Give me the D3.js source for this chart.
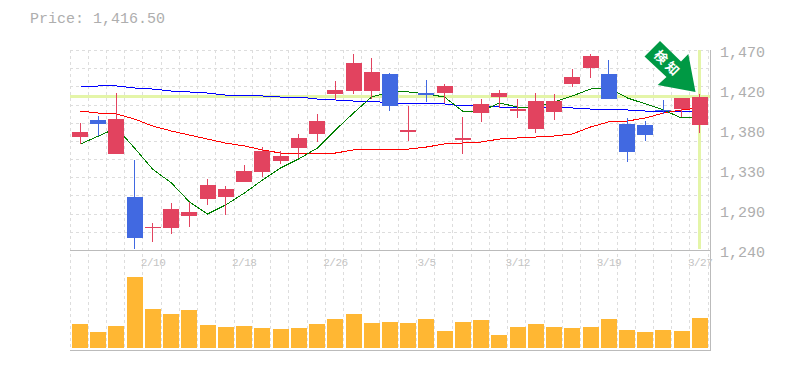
<!DOCTYPE html>
<html>
<head>
<meta charset="utf-8">
<script src="https://cdn.jsdelivr.net/npm/d3@7"></script>
<style>
  html, body { margin: 0; padding: 0; background: #fff; }
  svg { display: block; }
  text { font-family: "Liberation Mono", monospace; fill: #aeaeae; }
  .grid line { stroke: #ddd; stroke-dasharray: 3 3; shape-rendering: crispEdges; }
  .ma { fill: none; stroke-width: 1; }
  .axis .domain, .axis line { display: none; }
</style>
</head>
<body>
<svg id="chart" width="785" height="370"></svg>
<script>
var opens = [1370.5,1390.1,1351,1301.5,1265.9,1265.9,1279.7,1299.2,1301.5,1318.8,1330.3,1342.9,1357.9,1374,1420,1423.4,1423.4,1443,1376.3,1421.1,1421.1,1367.1,1398.1,1416.5,1400.4,1379.7,1399.3,1431.5,1449.9,1443,1385.5,1384.3,1401.6,1402.7,1384.3];
var highs = [1386.6,1394.7,1421.1,1344,1271.6,1294.6,1295.8,1322.2,1314.2,1338.3,1359,1354.4,1374,1397,1435,1466,1461.4,1444.1,1406.2,1436.1,1431.5,1393.5,1414.2,1424.6,1414.2,1421.1,1420,1448.7,1466,1459.1,1392.4,1388.9,1413.1,1415.4,1420];
var lows = [1362.5,1371.7,1351,1241.7,1249.8,1259,1267,1292.3,1280.8,1318.8,1324.5,1339.5,1346.4,1364.8,1413.1,1420,1414.2,1400.4,1365.9,1410.8,1409.6,1351,1387.8,1403.9,1392.4,1375.1,1390.1,1428,1438.4,1414.2,1341.8,1365.9,1397,1393.5,1375.1];
var closes = [1376.3,1385.5,1391.2,1254.4,1267,1287.7,1284.3,1315.3,1310.7,1331.4,1354.4,1348.7,1369.4,1388.9,1424.6,1455.6,1445.3,1406.2,1378.6,1418.8,1429.2,1369.4,1408.5,1421.1,1402.7,1411.9,1411.9,1439.5,1463.7,1414.2,1353.3,1372.8,1400.4,1415.4,1416.5];
var volumes = [240,160,220,710,390,340,380,230,210,220,200,190,200,240,290,340,250,260,250,290,170,260,280,130,210,240,210,200,210,290,180,160,180,170,300];

var maShort = [1362.5,1371.7,1380.9,1357.9,1333.7,1317.6,1295.8,1282,1292.3,1306.1,1321.1,1334.9,1345.2,1357.9,1378.6,1398.1,1416.5,1422.3,1422.3,1420,1416.5,1400.4,1400.4,1409.6,1405,1405,1410.8,1417.7,1425.7,1426.9,1415.4,1408.5,1401.6,1392.4,1392.4];
var maMid = [1400.4,1398.1,1397,1391.2,1383.2,1377.4,1372.8,1368.2,1363.6,1360.2,1355.6,1352.1,1351,1351,1352.1,1355.6,1356.7,1356.7,1356.7,1359,1362.5,1363.6,1364.8,1368.2,1369.4,1370.5,1371.7,1374,1382,1387.8,1388.9,1392.4,1398.1,1401.6,1403.9];
var maLong = [1428,1429.2,1429.2,1426.9,1425.7,1423.4,1422.3,1421.1,1418.8,1418.8,1417.7,1416.5,1416.5,1414.2,1413.1,1411.9,1411.9,1409.6,1409.6,1408.5,1408.5,1406.2,1406.2,1405,1405,1403.9,1403.9,1403.9,1402.7,1401.6,1401.6,1400.4,1400.4,1399.3,1399.3];

var tickIndex = [4, 9, 14, 19, 24, 29, 34],
    tickDates = ["2/10", "2/18", "2/26", "3/5", "3/12", "3/19", "3/27"],
    priceTicks = [1470, 1424, 1378, 1332, 1286, 1240],
    lastPrice = 1416.5;

var svg = d3.select("#chart");

var xScale = d3.scaleBand().domain(d3.range(opens.length)).range([70, 708.2]),
    yScale = d3.scaleLinear().domain([1240, 1470]).range([250.5, 50.5]),
    volScale = d3.scaleLinear().domain([0, 800]).range([348, 268]);

function barLeft(i) { return Math.round(xScale(i) + 2); }
function centerX(i) { return Math.floor(xScale(i) + 10) + 0.5; }
function gridX(i) { return Math.floor(70 + i * xScale.step()) + 0.5; }

// Title
svg.append("text")
    .attr("x", 30)
    .attr("y", 23)
    .style("font-size", "15px")
    .text("Price: " + d3.format(",.2f")(lastPrice));

// Grid, upper and lower panel share the vertical lines
var grid = svg.append("g").attr("class", "grid");

grid.selectAll(".v")
    .data(d3.range(opens.length + 1))
  .enter().append("line")
    .attr("x1", gridX)
    .attr("x2", gridX)
    .attr("y1", 50)
    .attr("y2", 350);

grid.selectAll(".h")
    .data(d3.range(0, 12))
  .enter().append("line")
    .attr("x1", 70)
    .attr("x2", 710)
    .attr("y1", function(d) { return Math.round(50 + d * 200 / 11) + 0.5; })
    .attr("y2", function(d) { return Math.round(50 + d * 200 / 11) + 0.5; });

// Current price and last bar highlight
svg.append("rect")
    .attr("x", 70)
    .attr("width", 640)
    .attr("y", Math.round(yScale(lastPrice)) - 2)
    .attr("height", 3)
    .style("fill", "#e4f5a8");

svg.append("rect")
    .attr("x", centerX(opens.length - 1) - 1.5)
    .attr("width", 3)
    .attr("y", 50)
    .attr("height", 199)
    .style("fill", "#e4f5a8");

// Panel borders
svg.append("path")
    .attr("d", "M70,250.5H710M70,350.5H710M710.5,50V351")
    .style("fill", "none")
    .style("stroke", "#bbb")
    .style("shape-rendering", "crispEdges");

// Moving averages
var line = d3.line()
    .x(function(d, i) { return centerX(i); })
    .y(function(d) { return yScale(d); });

[[maLong, "#0000ff"], [maMid, "#ff0000"], [maShort, "#008000"]].forEach(function(s) {
  svg.append("path")
      .attr("class", "ma")
      .attr("d", line(s[0]))
      .style("stroke", s[1])
      .style("shape-rendering", "crispEdges");
});

// Candles
var candle = svg.selectAll(".candle")
    .data(d3.range(opens.length))
  .enter().append("g")
    .attr("class", "candle")
    .style("fill", function(i) { return closes[i] >= opens[i] ? "#e2435f" : "#4169e1"; })
    .style("stroke", function(i) { return closes[i] >= opens[i] ? "#e2435f" : "#4169e1"; });

candle.append("line")
    .attr("x1", centerX)
    .attr("x2", centerX)
    .attr("y1", function(i) { return Math.round(yScale(highs[i])); })
    .attr("y2", function(i) { return Math.round(yScale(lows[i])); })
    .style("shape-rendering", "crispEdges");

candle.append("rect")
    .attr("x", barLeft)
    .attr("width", 16)
    .attr("y", function(i) { return Math.round(yScale(Math.max(opens[i], closes[i]))); })
    .attr("height", function(i) {
      return Math.max(1, Math.round(yScale(Math.min(opens[i], closes[i]))) - Math.round(yScale(Math.max(opens[i], closes[i]))));
    })
    .style("stroke", "none");

// Volume
svg.selectAll(".vol")
    .data(volumes)
  .enter().append("rect")
    .attr("class", "vol")
    .attr("x", function(d, i) { return barLeft(i); })
    .attr("width", 16)
    .attr("y", function(d) { return volScale(d); })
    .attr("height", function(d) { return volScale(0) - volScale(d); })
    .style("fill", "#ffb733");

// Detection arrow
var arrow = svg.append("g");

arrow.append("path")
    .attr("d", "M660,41L681,61.5L688.3,54L695.5,92L657.7,85L666.5,77L644.5,56.5Z")
    .style("fill", "#009944");

arrow.append("text")
    .attr("transform", "translate(661,57) rotate(45)")
    .attr("text-anchor", "middle")
    .attr("dy", "0.36em")
    .style("font-family", "'Noto Sans CJK JP'")
    .style("font-size", "13px")
    .style("font-weight", "700")
    .style("fill", "#fff")
    .text("検");

arrow.append("text")
    .attr("transform", "translate(672.5,68.5) rotate(45)")
    .attr("text-anchor", "middle")
    .attr("dy", "0.36em")
    .style("font-family", "'Noto Sans CJK JP'")
    .style("font-size", "13px")
    .style("font-weight", "700")
    .style("fill", "#fff")
    .text("知");

// Axes
var yAxis = d3.axisRight(yScale)
    .tickValues(priceTicks)
    .tickSize(0)
    .tickPadding(0)
    .tickFormat(function(d) { return d3.format(",")(Math.round(d / 10) * 10); });

svg.append("g")
    .attr("class", "axis y")
    .attr("transform", "translate(720,0)")
    .call(yAxis)
  .selectAll("text")
    .attr("dy", "0.43em")
    .style("font-size", "15px")
    .style("font-family", "'Liberation Mono', monospace")
    .style("fill", "#aeaeae");

var xAxis = d3.axisBottom(xScale)
    .tickValues(tickIndex)
    .tickSize(0)
    .tickPadding(0)
    .tickFormat(function(d, i) { return tickDates[i]; });

svg.append("g")
    .attr("class", "axis x")
    .attr("transform", "translate(1,258)")
    .call(xAxis)
  .selectAll("text")
    .attr("dy", "0.71em")
    .style("font-size", "11px")
    .style("letter-spacing", "-0.5px")
    .style("font-family", "'Liberation Mono', monospace")
    .style("fill", "#c4c4c4");
</script>
</body>
</html>
